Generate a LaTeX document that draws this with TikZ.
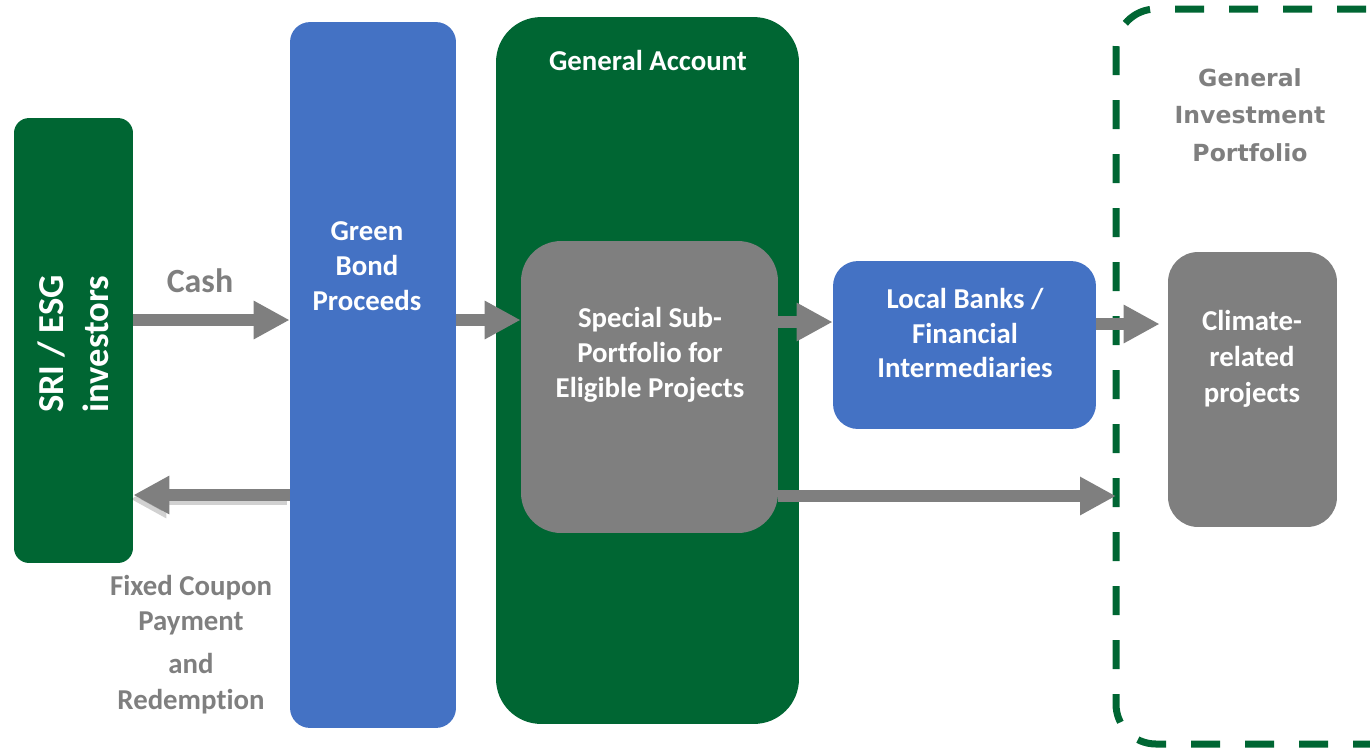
\documentclass[tikz,border=0pt]{standalone}
\usepackage{fontspec}
\setmainfont{Carlito}[Ligatures=NoCommon]
\newfontfamily\widefont{DejaVu Sans}
\usetikzlibrary{arrows.meta}

\definecolor{bondgreen}{RGB}{0,102,51}
\definecolor{bondblue}{RGB}{68,114,196}
\definecolor{boxgray}{RGB}{127,127,127}

\begin{document}
\begin{tikzpicture}[
    x=0.02cm,
    y=-0.02cm,
    line cap=butt,
    line join=miter,
    box/.style={rounded corners=#1, inner sep=0pt, text=white,
                font=\bfseries\fontsize{16.4}{19.8}\selectfont, align=center},
    greenbox/.style={box=#1, fill=bondgreen},
    bluebox/.style={box=#1, fill=bondblue},
    graybox/.style={box=#1, fill=boxgray},
    boxtext/.style={text=white, align=center,
                    font=\bfseries\fontsize{16.4}{19.8}\selectfont},
    graytext/.style={text=boxgray, align=center,
                     font=\bfseries\fontsize{16.4}{19.8}\selectfont},
    flow/.style={draw=boxgray, line width=0.24cm,
                 -{Triangle[length=7.2mm, width=7.2mm]}},
    portfolio/.style={draw=bondgreen, line width=0.14cm,
                      dash pattern=on 0.58cm off 0.5cm, rounded corners=0.8cm}
]

\useasboundingbox (0,0) rectangle (1370,752);

% -------------------------------------------------
% Boxes
% -------------------------------------------------
\node[greenbox=0.3cm, minimum width=2.38cm, minimum height=8.9cm]
    (sri) at (73.5,340.5) {};
\node[bluebox=0.4cm, minimum width=3.32cm, minimum height=14.12cm]
    (bond) at (373,375) {};
\node[greenbox=0.9cm, minimum width=6.06cm, minimum height=14.14cm]
    (general) at (647.5,370.5) {};
\node[graybox=0.8cm, minimum width=5.14cm, minimum height=5.84cm]
    (special) at (649.5,387) {};
\node[bluebox=0.5cm, minimum width=5.26cm, minimum height=3.36cm]
    (banks) at (964.5,345) {};
\node[graybox=0.6cm, minimum width=3.38cm, minimum height=5.5cm]
    (climate) at (1252.5,389.5) {};

% dashed portfolio frame, right side runs off the page
\begin{scope}
    \clip (0,0) rectangle (1370,752);
    \draw[portfolio] (1420,9) -- (1116,9) -- (1116,744) -- (1420,744);
\end{scope}

% -------------------------------------------------
% Labels
% -------------------------------------------------
\node[boxtext, rotate=90, font=\bfseries\fontsize{20.8}{25.5}\selectfont]
    (sritext) at (73,344) {SRI / ESG\\investors};
\node[boxtext] (bondtext) at (367,266) {Green\\Bond\\Proceeds};
\node[boxtext] (generaltext) at (648,60) {General Account};
\node[boxtext] (specialtext) at (650,355) {Special Sub-\\Portfolio for\\Eligible Projects};
\node[boxtext] (bankstext) at (965,333) {Local Banks /\\Financial\\Intermediaries};
\node[boxtext, font=\bfseries\fontsize{16.4}{20.4}\selectfont]
    (climatetext) at (1252,359) {Climate-\\related\\projects};
\node[graytext, font=\widefont\bfseries\fontsize{13.4}{21.5}\selectfont]
    (gip) at (1250,115) {General\\Investment\\Portfolio};
\node[graytext, font=\bfseries\fontsize{19.3}{23}\selectfont]
    (cash) at (200,281) {Cash};
\node[graytext] (coupon) at (191,645)
    {Fixed Coupon\\Payment\\[4.5pt]and\\[1pt]Redemption};

% -------------------------------------------------
% Flows
% -------------------------------------------------
\coordinate (upper) at (0,320);
\coordinate (lower) at (0,495);
\coordinate (gipedge) at (1116,496);

\draw[flow] (sri.east |- upper) -- (bond.west |- upper);
\draw[flow] (bond.east |- upper) -- (special.west |- upper);
\draw[flow] (special.east |- 0,322) -- (banks.west |- 0,322);
\draw[flow] (banks.east |- 0,324) -- ([xshift=-0.16cm]climate.west |- 0,324);
\draw[flow] (special.east |- gipedge) -- (gipedge);

% return flow with its soft shadow
\draw[flow, draw=black, opacity=0.18]
    ([xshift=-0.06cm, yshift=-0.08cm]bond.west |- lower)
    -- ([xshift=-0.06cm, yshift=-0.08cm]sri.east |- lower);
\draw[flow] (bond.west |- lower) -- (sri.east |- lower);

\end{tikzpicture}
\end{document}
